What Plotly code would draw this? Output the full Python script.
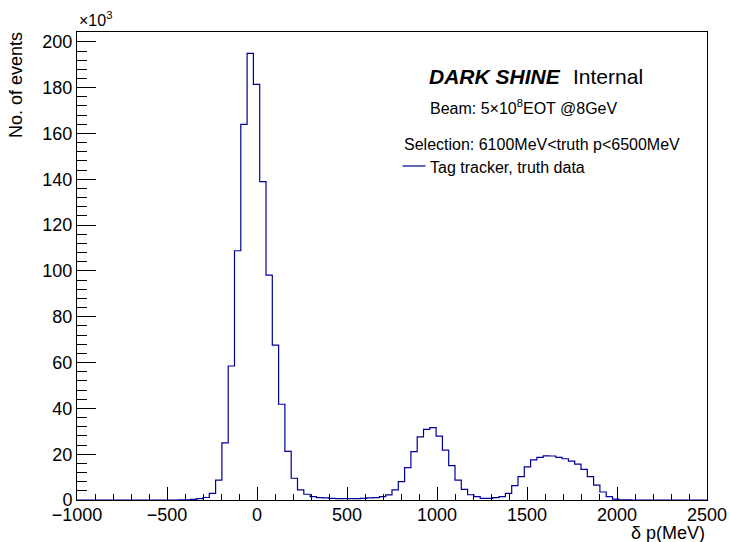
import numpy as np
import plotly.graph_objects as go

# Histogram definition: 100 bins of 35 MeV from -1000 to 2500 MeV
bin_low = -1000
bin_width = 35
# Bin contents in units of 10^3 events
events_k = [
    0, 0, 0, 0, 0, 0, 0, 0, 0, 0,
    0, 0, 0, 0, 0, 0, 0.02, 0.1, 0.3, 0.6,
    1.1, 2.9, 8.7, 24.9, 58.5, 108.8, 164.0, 195.0, 181.4, 139.0,
    98.2, 67.6, 41.8, 21.2, 9.5, 4.4, 2.5, 1.5, 1.0, 0.9,
    0.7, 0.6, 0.6, 0.6, 0.6, 0.7, 0.9, 1.0, 1.5, 2.2,
    4.4, 8.0, 14.1, 21.1, 27.6, 30.8, 31.6, 27.9, 21.8, 15.0,
    8.7, 4.6, 2.3, 1.5, 0.7, 0.7, 1.0, 1.5, 2.9, 6.3,
    10.2, 14.5, 17.5, 18.6, 19.3, 19.2, 18.6, 18.0, 17.0, 15.7,
    13.4, 10.2, 6.5, 3.5, 1.5, 0.4, 0.1, 0.02, 0, 0,
    0, 0, 0, 0, 0, 0, 0, 0, 0, 0,
]
x_ticks = [-1000, -500, 0, 500, 1000, 1500, 2000, 2500]
y_ticks = [0, 20, 40, 60, 80, 100, 120, 140, 160, 180, 200]

edges = bin_low + bin_width * np.arange(len(events_k) + 1)
y_step = list(events_k) + [events_k[-1]]

FONT = "Liberation Sans, Arial, Helvetica, sans-serif"
LINE_COLOR = "#000099"

fig = go.Figure()
fig.add_trace(go.Scatter(
    x=edges, y=y_step, mode="lines", line=dict(color=LINE_COLOR, width=1.2, shape="hv"),
    showlegend=False, hoverinfo="skip",
))

W, H = 730, 542
ml, mr, mt, mb = 77, 23, 32, 42
ph = H - mt - mb
pw = W - ml - mr


def py(Y):
    return (H - mb - Y) / ph


def px(X):
    return (X - ml) / pw


fig.update_layout(
    width=W, height=H, autosize=False,
    margin=dict(l=ml, r=mr, t=mt, b=mb, pad=0),
    paper_bgcolor="white", plot_bgcolor="white",
    font=dict(family=FONT, color="black", size=18),
    xaxis=dict(
        range=[-1000, 2500], tickvals=x_ticks, ticks="inside", ticklen=13, tickcolor="black",
        showline=True, linecolor="black", linewidth=1, mirror=True, showgrid=False, zeroline=False,
        tickfont=dict(size=18, family=FONT), ticklabelstandoff=-2, automargin=False,
        minor=dict(dtick=100, ticks="inside", ticklen=6.5, tickcolor="black", showgrid=False),
    ),
    yaxis=dict(
        range=[0, 204.3], tickvals=y_ticks, ticks="inside", ticklen=19, tickcolor="black",
        showline=True, linecolor="black", linewidth=1, mirror=True, showgrid=False, zeroline=False,
        tickfont=dict(size=18, family=FONT), automargin=False,
        minor=dict(dtick=4, ticks="inside", ticklen=9.5, tickcolor="black", showgrid=False),
    ),
)

ann = []
ann.append(dict(text="×10<sup>3</sup>", x=0, y=py(19), xanchor="left", yanchor="middle", font=dict(size=16)))
ann.append(dict(text="No. of events", x=px(16), y=py(30), xanchor="center", yanchor="top", textangle=-90,
                font=dict(size=18)))
ann.append(dict(text="δ p(MeV)", x=1, y=py(533), xanchor="right", yanchor="middle", font=dict(size=18)))
ann.append(dict(text="<b><i>DARK SHINE</i></b>", x=px(427), y=py(76), xanchor="left", yanchor="middle",
                font=dict(size=21)))
ann.append(dict(text="Internal", x=px(571), y=py(76), xanchor="left", yanchor="middle", font=dict(size=21)))
ann.append(dict(text="Beam: 5×10<sup>8</sup>EOT @8GeV", x=px(428), y=py(107), xanchor="left",
                yanchor="middle", font=dict(size=16)))
ann.append(dict(text="Selection: 6100MeV<truth p<6500MeV", x=px(402), y=py(144), xanchor="left",
                yanchor="middle", font=dict(size=16)))
ann.append(dict(text="Tag tracker, truth data", x=px(428), y=py(168), xanchor="left", yanchor="middle",
                font=dict(size=16)))
for a in ann:
    a.update(xref="paper", yref="paper", showarrow=False)
fig.update_layout(annotations=ann)

fig.add_shape(type="line", xref="paper", yref="paper", x0=px(402.5), x1=px(425.5), y0=py(166), y1=py(166),
              line=dict(color=LINE_COLOR, width=1.2))

fig.write_html("out.html", config={"displayModeBar": False},
               post_script="document.body.style.margin='0';")
